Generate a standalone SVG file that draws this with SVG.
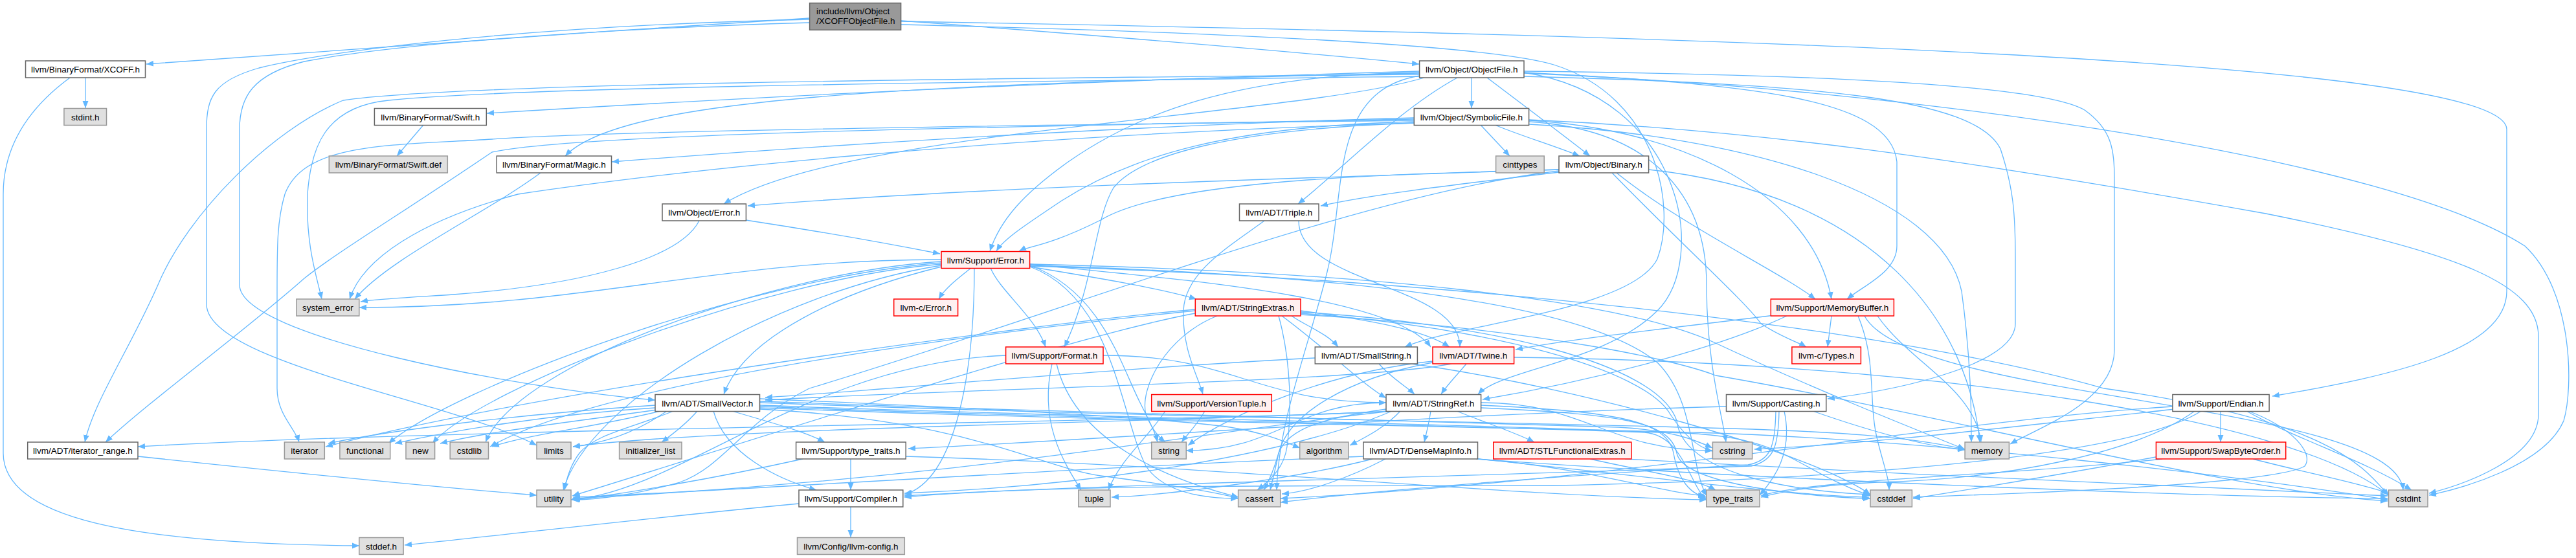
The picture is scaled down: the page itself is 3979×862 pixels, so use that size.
<svg xmlns="http://www.w3.org/2000/svg" width="3979" height="862" viewBox="0 0 3979 862">
<defs>
<marker id="ah" markerUnits="userSpaceOnUse" markerWidth="12" markerHeight="10" refX="11" refY="4.5" orient="auto"><path d="M0,0 L11,4.5 L0,9 z" fill="#63B8FF"/></marker>
<style>
.e path{fill:none;stroke:#63B8FF;stroke-width:1.3;marker-end:url(#ah)}
.nd rect{stroke-width:1.5}
.w rect{fill:#fff;stroke:#666}
.s rect{fill:#E0E0E0;stroke:#999}
.r rect{fill:#FFF0F0;stroke:#F00}
.root rect{fill:#999;stroke:#666}
text{font-family:"Liberation Sans",Arial,sans-serif;font-size:13.5px;fill:#000;text-anchor:middle}
.root text{text-anchor:start}
</style>
</defs>
<rect width="3979" height="862" fill="#fff"/>
<g id="edges" class="e">
<path d="M1251,28 C900,50 500,78 226,99"/>
<path d="M1392,32 C1700,55 2000,80 2192,99"/>
<path d="M1392,38 C1900,50 2300,70 2400,100 C2560,150 2590,320 2560,400 C2520,480 2250,500 2170,536"/>
<path d="M1251,35 C900,45 600,70 470,95 C390,115 370,150 370,200 L370,440 C370,520 800,600 1012,618"/>
<path d="M1392,33 C2600,55 3872,90 3872,200 L3872,450 C3872,540 3700,580 3510,612"/>
<path d="M1251,30 C800,40 500,80 400,105 C330,125 319,150 319,200 L319,470 C319,560 700,620 829,688"/>
<path d="M132,120 L132,167"/>
<path d="M108,120 C40,170 5,230 5,300 L5,700 C5,800 200,840 555,843"/>
<path d="M2193,110 C1500,130 1000,160 752,175"/>
<path d="M2193,113 C1400,130 960,150 873,241"/>
<path d="M2273,120 L2273,167"/>
<path d="M2297,120 C2350,160 2410,205 2456,241"/>
<path d="M2200,120 C2000,180 1300,200 1118,315"/>
<path d="M2251,120 C2160,170 2080,255 2005,315"/>
<path d="M2193,112 C1900,115 1750,180 1650,250 C1580,300 1545,340 1529,388"/>
<path d="M2354,112 C2700,130 2920,150 2930,250 L2930,380 C2930,420 2880,440 2853,462"/>
<path d="M2354,118 C2800,130 3050,150 3090,230 C3110,290 3113,330 3113,400 L3113,500 C3113,560 2950,600 2823,616"/>
<path d="M2354,112 C2600,150 2640,400 2560,480 C2480,560 2320,570 2283,609"/>
<path d="M2193,115 C1400,122 700,130 530,155 C420,200 290,330 244,440 C200,540 145,620 131,683"/>
<path d="M2193,118 C1400,128 800,135 600,155 C500,165 480,230 475,300 C472,380 490,430 497,462"/>
<path d="M2193,117 C2050,140 2080,300 2050,420 C2020,540 1975,650 1972,757"/>
<path d="M2354,113 C3000,140 3700,250 3900,380 C3975,450 3975,600 3960,650 C3930,720 3800,755 3752,765"/>
<path d="M2354,110 C2800,115 3150,130 3220,170 C3262,200 3266,230 3266,280 L3266,540 C3266,620 3150,660 3105,686"/>
<path d="M654,193 L613,241"/>
<path d="M2184,184 C1600,195 900,205 760,235 C620,330 520,390 470,430 C380,510 230,620 163,683"/>
<path d="M2184,182 C1700,195 1200,230 945,250"/>
<path d="M2309,193 C2350,210 2400,225 2440,241"/>
<path d="M2287,193 L2332,241"/>
<path d="M2184,188 C1900,195 1750,240 1640,310 C1580,350 1550,370 1539,388"/>
<path d="M2184,190 C1900,200 1760,240 1720,290 C1690,340 1690,440 1644,536"/>
<path d="M2362,186 C2600,200 2800,300 2829,462"/>
<path d="M2362,185 C2700,200 3000,240 3500,330 C3800,390 3921,440 3921,520 L3921,640 C3921,710 3800,750 3752,762"/>
<path d="M2362,188 C2550,200 2636,300 2636,440 C2636,560 2660,640 2666,683"/>
<path d="M2184,186 C1400,195 900,205 760,215 C600,225 470,220 440,300 C428,340 428,380 428,450 L428,600 C428,640 455,660 462,683"/>
<path d="M2362,192 C2700,210 3000,300 3030,450 C3045,560 3045,640 3045,683"/>
<path d="M2184,190 C1500,210 1000,270 800,300 C650,340 560,400 540,462"/>
<path d="M835,267 C750,330 600,400 548,462"/>
<path d="M2408,266 C2250,285 2120,300 2040,318"/>
<path d="M2408,262 C2000,275 1500,290 1155,318"/>
<path d="M2408,262 C2100,270 1800,280 1700,340 C1620,380 1590,380 1574,388"/>
<path d="M2497,267 C2600,350 2750,420 2804,462"/>
<path d="M2490,267 C2600,380 2700,470 2720,500 C2750,520 2780,530 2790,536"/>
<path d="M2547,262 C2900,300 3040,500 3058,683"/>
<path d="M2408,264 C2100,300 1650,480 1250,600 C1150,650 1120,720 1050,745 C980,765 920,772 884,772"/>
<path d="M1152,340 C1250,355 1350,372 1452,392"/>
<path d="M1080,341 C1050,400 900,440 700,455 C620,460 580,462 557,466"/>
<path d="M2006,341 C2006,439 2255,439 2255,536"/>
<path d="M1953,341 C1900,380 1830,420 1828,480 C1826,540 1850,580 1858,609"/>
<path d="M1500,414 C1480,430 1460,445 1450,462"/>
<path d="M1530,414 C1545,450 1600,490 1615,536"/>
<path d="M1591,412 C1700,430 1790,445 1848,462"/>
<path d="M1591,408 C1800,430 2150,455 2210,536"/>
<path d="M1454,412 C1300,450 1150,520 1118,609"/>
<path d="M1505,414 C1505,560 1480,740 1397,764"/>
<path d="M1591,412 C1720,460 1730,640 1770,720 C1800,765 1870,770 1912,770"/>
<path d="M1591,411 C2200,430 2900,500 3250,600 C3600,650 3650,720 3690,766"/>
<path d="M1454,404 C1200,420 800,560 750,683"/>
<path d="M1454,406 C1150,430 700,600 600,685"/>
<path d="M1591,408 C2100,420 2500,460 2650,530 C2800,600 2950,660 3035,694"/>
<path d="M1454,408 C1180,430 740,600 668,685"/>
<path d="M1591,410 C1700,450 1730,560 1760,620 C1780,660 1785,670 1788,683"/>
<path d="M1454,401 C1098,401 911,475 555,475"/>
<path d="M1591,410 C2100,425 2450,470 2560,560 C2620,620 2610,720 2636,766"/>
<path d="M1454,410 C1200,450 910,620 870,757"/>
<path d="M1995,488 C2020,505 2050,515 2067,536"/>
<path d="M1980,488 C2050,540 2100,590 2141,615"/>
<path d="M2009,480 C2120,495 2200,510 2239,536"/>
<path d="M1975,488 C1995,560 1995,640 1988,690 C1984,720 1965,740 1942,757"/>
<path d="M2009,482 C2300,500 2560,560 2590,650 C2600,740 2800,760 2889,764"/>
<path d="M2009,486 C2400,510 2600,560 2650,580 C3000,640 3450,760 3688,774"/>
<path d="M1846,480 C1600,505 950,580 757,690"/>
<path d="M2009,484 C2300,505 2540,570 2580,640 C2600,670 2620,690 2645,697"/>
<path d="M1846,478 C1600,500 850,600 503,690"/>
<path d="M1880,488 C1800,520 1760,600 1770,640 C1780,665 1790,675 1800,683"/>
<path d="M1846,484 C1650,520 1100,700 884,766"/>
<path d="M2829,488 L2823,536"/>
<path d="M2740,487 C2600,505 2450,520 2341,540"/>
<path d="M2760,488 C2650,540 2450,590 2290,617"/>
<path d="M2870,488 C2900,560 2885,620 2900,680 C2910,720 2918,740 2918,757"/>
<path d="M2880,488 C2950,620 3700,620 3712,757"/>
<path d="M2900,488 C2950,560 3050,600 3060,683"/>
<path d="M1704,549 C1909,549 1936,622 2141,622"/>
<path d="M1632,562 C1660,680 1800,740 1913,768"/>
<path d="M1625,562 C1605,650 1640,710 1670,757"/>
<path d="M1554,549 C1250,560 1050,760 882,772"/>
<path d="M2031,553 C1700,570 1400,600 1182,614"/>
<path d="M2130,562 C2150,585 2170,595 2185,609"/>
<path d="M2180,562 C2450,600 2800,700 2889,764"/>
<path d="M2242,562 C2100,590 1500,600 1182,618"/>
<path d="M2265,562 C2250,580 2235,595 2226,609"/>
<path d="M2213,560 C2080,585 1990,640 1975,700 C1968,725 1962,740 1952,757"/>
<path d="M2339,552 C3000,560 3550,650 3688,764"/>
<path d="M2213,558 C2050,575 1900,640 1835,688"/>
<path d="M1077,635 C1060,655 1040,670 1022,683"/>
<path d="M1131,635 C1180,650 1240,665 1274,683"/>
<path d="M1102,635 C1120,700 1200,740 1261,757"/>
<path d="M1040,635 C980,660 920,670 895,700 C880,720 875,740 872,757"/>
<path d="M1030,635 C980,670 930,685 885,690"/>
<path d="M1020,635 C920,660 820,670 760,690"/>
<path d="M1015,633 C900,650 760,665 680,685"/>
<path d="M1012,630 C850,640 700,665 610,685"/>
<path d="M1012,626 C800,640 600,665 507,685"/>
<path d="M1174,616 C1500,630 1800,645 1900,660 C1960,670 1990,685 2008,692"/>
<path d="M1174,620 C1700,640 2300,650 2500,660 C2580,664 2620,680 2645,692"/>
<path d="M1174,622 C1700,642 2300,652 2600,660 C2850,666 2950,675 3035,694"/>
<path d="M1174,632 C1500,650 1600,720 1700,735 C1800,748 1880,760 1913,770"/>
<path d="M1174,626 C1700,646 2300,655 2560,668 C2760,668 2760,720 2889,766"/>
<path d="M1174,630 C1700,650 2300,660 2620,668 C3000,680 3500,740 3688,772"/>
<path d="M1174,628 C1700,648 2300,658 2540,668 C2600,672 2610,750 2636,772"/>
<path d="M1861,635 C1850,655 1835,670 1825,683"/>
<path d="M1800,635 C1770,680 1730,710 1712,757"/>
<path d="M2210,635 C2207,655 2203,670 2200,683"/>
<path d="M2250,635 C2300,655 2340,668 2370,683"/>
<path d="M2150,635 C1900,650 700,662 213,690"/>
<path d="M2150,635 C2000,700 1700,750 1397,762"/>
<path d="M2163,635 C2140,660 2110,675 2085,688"/>
<path d="M2141,632 C2050,645 1990,660 1975,700 C1970,725 1966,740 1962,757"/>
<path d="M2288,630 C2500,640 2580,650 2590,700 C2600,750 2800,768 2889,770"/>
<path d="M2288,622 C2450,622 2483,696 2645,696"/>
<path d="M2150,635 C1900,650 1100,660 885,690"/>
<path d="M2141,622 C1998,622 1975,696 1832,696"/>
<path d="M2288,626 C2500,636 2575,650 2585,700 C2592,740 2610,764 2636,768"/>
<path d="M2150,635 C1900,660 1500,740 884,770"/>
<path d="M2756,635 C2770,700 2740,740 2718,765"/>
<path d="M2800,635 C2900,670 2980,690 3035,695"/>
<path d="M2748,635 C2747,690 2740,712 2705,720 C2300,735 1700,748 1397,766"/>
<path d="M2667,628 C2200,640 1700,680 1403,693"/>
<path d="M2743,635 C2742,690 2735,712 2700,718 C2400,735 2100,760 1978,776"/>
<path d="M3430,635 L3430,683"/>
<path d="M3470,635 C3550,680 3650,710 3725,757"/>
<path d="M3473,635 C3540,660 3575,700 3560,720 C3520,745 3200,760 2955,768"/>
<path d="M3390,635 C3300,700 3100,740 2900,745 C2800,750 2750,760 2720,768"/>
<path d="M3356,628 C3000,650 2500,745 1978,770"/>
<path d="M3360,632 C3100,660 2900,685 2710,694"/>
<path d="M3400,635 C3300,700 2900,740 2400,750 C1900,750 1600,750 1397,768"/>
<path d="M3480,709 C3560,730 3640,745 3690,762"/>
<path d="M3330,706 C3200,730 3050,755 2955,770"/>
<path d="M3340,709 C3100,735 2800,740 2720,766"/>
<path d="M1314,709 L1314,757"/>
<path d="M1399,705 C1900,720 2300,765 2636,772"/>
<path d="M1240,709 C1100,740 950,765 885,772"/>
<path d="M2140,709 C2080,740 2020,760 1980,763"/>
<path d="M2120,709 C2000,740 1800,765 1717,768"/>
<path d="M2106,705 C1700,720 1100,760 885,768"/>
<path d="M2283,709 C2450,722 2560,760 2634,766"/>
<path d="M2283,709 C2500,730 2750,765 2887,768"/>
<path d="M2280,709 C2700,740 3400,768 3688,770"/>
<path d="M2456,709 C2550,730 2620,740 2650,757"/>
<path d="M2510,709 C2900,730 3500,760 3688,766"/>
<path d="M213,705 C450,730 700,755 829,765"/>
<path d="M1314,783 L1314,830"/>
<path d="M1234,778 C1000,800 750,830 625,842"/>
</g>
<g id="n_root" class="nd root"><rect x="1250.6" y="4.7" width="141" height="41.6"/><text x="1261" y="22">include/llvm/Object</text><text x="1261" y="37">/XCOFFObjectFile.h</text></g>
<g id="n_xcoff" class="nd w"><rect x="39.5" y="94" width="185" height="26"/><text x="132" y="112">llvm/BinaryFormat/XCOFF.h</text></g>
<g id="n_objectfile" class="nd w"><rect x="2192.6" y="94" width="161.4" height="26"/><text x="2273.3" y="112">llvm/Object/ObjectFile.h</text></g>
<g id="n_stdint" class="nd s"><rect x="98.9" y="167.5" width="65.6" height="26"/><text x="131.7" y="185.5">stdint.h</text></g>
<g id="n_swift" class="nd w"><rect x="578.4" y="167.5" width="172.9" height="26"/><text x="664.85" y="185.5">llvm/BinaryFormat/Swift.h</text></g>
<g id="n_symbolic" class="nd w"><rect x="2184.3" y="167.5" width="177.3" height="26"/><text x="2272.95" y="185.5">llvm/Object/SymbolicFile.h</text></g>
<g id="n_swiftdef" class="nd s"><rect x="508.3" y="241" width="183" height="26"/><text x="599.8" y="259">llvm/BinaryFormat/Swift.def</text></g>
<g id="n_magic" class="nd w"><rect x="767.2" y="241" width="177.3" height="26"/><text x="855.85" y="259">llvm/BinaryFormat/Magic.h</text></g>
<g id="n_cinttypes" class="nd s"><rect x="2310.6" y="241" width="74.6" height="26"/><text x="2347.9" y="259">cinttypes</text></g>
<g id="n_binary" class="nd w"><rect x="2408" y="241" width="138.6" height="26"/><text x="2477.3" y="259">llvm/Object/Binary.h</text></g>
<g id="n_objerror" class="nd w"><rect x="1023" y="315" width="129.4" height="26"/><text x="1087.7" y="333">llvm/Object/Error.h</text></g>
<g id="n_triple" class="nd w"><rect x="1914.5" y="315" width="122.5" height="26"/><text x="1975.75" y="333">llvm/ADT/Triple.h</text></g>
<g id="n_superror" class="nd r"><rect x="1454" y="388.5" width="136.6" height="26"/><text x="1522.3" y="406.5">llvm/Support/Error.h</text></g>
<g id="n_system_error" class="nd s"><rect x="457.9" y="462" width="96.9" height="26"/><text x="506.35" y="480">system_error</text></g>
<g id="n_cerror" class="nd r"><rect x="1380.7" y="462" width="98.9" height="26"/><text x="1430.15" y="480">llvm-c/Error.h</text></g>
<g id="n_stringextras" class="nd r"><rect x="1846.3" y="462" width="162.7" height="26"/><text x="1927.65" y="480">llvm/ADT/StringExtras.h</text></g>
<g id="n_memorybuffer" class="nd r"><rect x="2735.3" y="462" width="190.1" height="26"/><text x="2830.35" y="480">llvm/Support/MemoryBuffer.h</text></g>
<g id="n_format" class="nd r"><rect x="1553.6" y="536" width="150.4" height="26"/><text x="1628.8" y="554">llvm/Support/Format.h</text></g>
<g id="n_smallstring" class="nd w"><rect x="2031.3" y="536" width="158.1" height="26"/><text x="2110.35" y="554">llvm/ADT/SmallString.h</text></g>
<g id="n_twine" class="nd r"><rect x="2213" y="536" width="125.6" height="26"/><text x="2275.8" y="554">llvm/ADT/Twine.h</text></g>
<g id="n_ctypes" class="nd r"><rect x="2767.9" y="536" width="106.5" height="26"/><text x="2821.15" y="554">llvm-c/Types.h</text></g>
<g id="n_smallvector" class="nd w"><rect x="1012" y="609.5" width="161.5" height="26"/><text x="1092.75" y="627.5">llvm/ADT/SmallVector.h</text></g>
<g id="n_versiontuple" class="nd r"><rect x="1778.7" y="609.5" width="185.6" height="26"/><text x="1871.5" y="627.5">llvm/Support/VersionTuple.h</text></g>
<g id="n_stringref" class="nd w"><rect x="2141" y="609.5" width="146.6" height="26"/><text x="2214.3" y="627.5">llvm/ADT/StringRef.h</text></g>
<g id="n_casting" class="nd w"><rect x="2666.5" y="609.5" width="154.3" height="26"/><text x="2743.65" y="627.5">llvm/Support/Casting.h</text></g>
<g id="n_endian" class="nd w"><rect x="3355.9" y="609.5" width="149.2" height="26"/><text x="3430.5" y="627.5">llvm/Support/Endian.h</text></g>
<g id="n_iterator_range" class="nd w"><rect x="42.7" y="683" width="170.3" height="26"/><text x="127.85" y="701">llvm/ADT/iterator_range.h</text></g>
<g id="n_iterator" class="nd s"><rect x="439.4" y="683" width="61.9" height="26"/><text x="470.35" y="701">iterator</text></g>
<g id="n_functional" class="nd s"><rect x="524.9" y="683" width="77.8" height="26"/><text x="563.8" y="701">functional</text></g>
<g id="n_new" class="nd s"><rect x="627" y="683" width="44.6" height="26"/><text x="649.3" y="701">new</text></g>
<g id="n_cstdlib" class="nd s"><rect x="695.2" y="683" width="59.3" height="26"/><text x="724.85" y="701">cstdlib</text></g>
<g id="n_limits" class="nd s"><rect x="829" y="683" width="53" height="26"/><text x="855.5" y="701">limits</text></g>
<g id="n_initializer_list" class="nd s"><rect x="956.6" y="683" width="96.4" height="26"/><text x="1004.8" y="701">initializer_list</text></g>
<g id="n_type_traits_h" class="nd w"><rect x="1229.6" y="683" width="169.6" height="26"/><text x="1314.4" y="701">llvm/Support/type_traits.h</text></g>
<g id="n_string" class="nd s"><rect x="1778.7" y="683" width="53.6" height="26"/><text x="1805.5" y="701">string</text></g>
<g id="n_algorithm" class="nd s"><rect x="2007.7" y="683" width="75.2" height="26"/><text x="2045.3" y="701">algorithm</text></g>
<g id="n_densemapinfo" class="nd w"><rect x="2105.9" y="683" width="176.6" height="26"/><text x="2194.2" y="701">llvm/ADT/DenseMapInfo.h</text></g>
<g id="n_stlfunctional" class="nd r"><rect x="2306.8" y="683" width="213" height="26"/><text x="2413.3" y="701">llvm/ADT/STLFunctionalExtras.h</text></g>
<g id="n_cstring" class="nd s"><rect x="2645.4" y="683" width="61.2" height="26"/><text x="2676" y="701">cstring</text></g>
<g id="n_memory" class="nd s"><rect x="3035.1" y="683" width="68.3" height="26"/><text x="3069.25" y="701">memory</text></g>
<g id="n_swapbyteorder" class="nd r"><rect x="3330.4" y="683" width="200.3" height="26"/><text x="3430.55" y="701">llvm/Support/SwapByteOrder.h</text></g>
<g id="n_utility" class="nd s"><rect x="829" y="757" width="53" height="26"/><text x="855.5" y="775">utility</text></g>
<g id="n_compiler" class="nd w"><rect x="1234" y="757" width="160.8" height="26"/><text x="1314.4" y="775">llvm/Support/Compiler.h</text></g>
<g id="n_tuple" class="nd s"><rect x="1665.8" y="757" width="49.2" height="26"/><text x="1690.4" y="775">tuple</text></g>
<g id="n_cassert" class="nd s"><rect x="1912.6" y="757" width="65.1" height="26"/><text x="1945.15" y="775">cassert</text></g>
<g id="n_type_traits" class="nd s"><rect x="2635.8" y="757" width="82.3" height="26"/><text x="2676.95" y="775">type_traits</text></g>
<g id="n_cstddef" class="nd s"><rect x="2889" y="757" width="64.4" height="26"/><text x="2921.2" y="775">cstddef</text></g>
<g id="n_cstdint" class="nd s"><rect x="3689.5" y="757" width="60.5" height="26"/><text x="3719.75" y="775">cstdint</text></g>
<g id="n_stddef" class="nd s"><rect x="554.8" y="830.5" width="68.3" height="26"/><text x="588.95" y="848.5">stddef.h</text></g>
<g id="n_llvmconfig" class="nd s"><rect x="1231.5" y="830.5" width="165.8" height="26"/><text x="1314.4" y="848.5">llvm/Config/llvm-config.h</text></g>
</svg>
